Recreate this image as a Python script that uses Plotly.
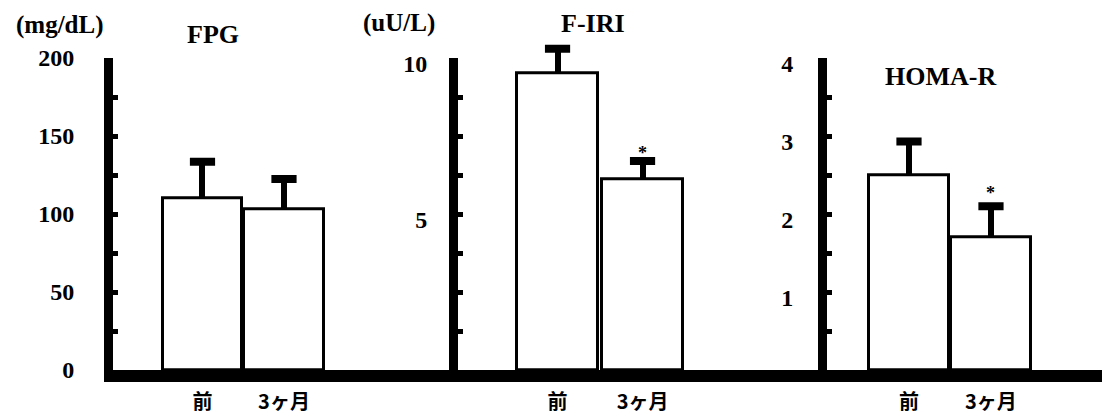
import plotly.graph_objects as go

# ---- data ----
categories = ["前", "3ヶ月"]
fpg_mean = [110, 103]
fpg_sd = [23.5, 19.5]
iri_mean = [9.5, 6.1]
iri_sd = [0.8, 0.6]
homa_mean = [2.5, 1.7]
homa_sd = [0.43, 0.4]

fpg_ticks = [0, 25, 50, 75, 100, 125, 150, 175, 200]
fpg_ticktext = ["0", "", "50", "", "100", "", "150", "", "200"]
iri_ticks = [0, 1.25, 2.5, 3.75, 5, 6.25, 7.5, 8.75, 10]
iri_ticktext = ["", "", "", "", "5", "", "", "", "10"]
homa_ticks = [0, 0.5, 1, 1.5, 2, 2.5, 3, 3.5, 4]
homa_ticktext = ["", "", "1", "", "2", "", "3", "", "4"]

titles = ["FPG", "F-IRI", "HOMA-R"]
units = ["(mg/dL)", "(uU/L)"]
significant = [False, True, True]  # 3ヶ月 vs 前, marked "*"

W, H = 1102, 416
SERIF = "Liberation Serif"
CJK = "Noto Sans CJK JP"
HEAD = 1.15  # headroom factor for the (invisible) data axes so error caps are not clipped

panels = [
    dict(mean=fpg_mean, sd=fpg_sd, ticks=fpg_ticks, text=fpg_ticktext, yr=[0, 200],
         xd=[113, 458], xr=[-1.098, 3.135], shift=0, standoff=25, bw=0.97, upx=81.5),
    dict(mean=iri_mean, sd=iri_sd, ticks=iri_ticks, text=iri_ticktext, yr=[0, 10],
         xd=[458, 827], xr=[-1.171, 3.170], shift=6, standoff=17, bw=0.95, upx=85),
    dict(mean=homa_mean, sd=homa_sd, ticks=homa_ticks, text=homa_ticktext, yr=[0, 4],
         xd=[827, 1102], xr=[-1.0, 2.354], shift=6, standoff=20, bw=0.98, upx=82),
]

fig = go.Figure()
ybot, ytop = (H - 370) / H, (H - 58) / H
ydom = [ybot, ytop]
ydom_data = [ybot, ybot + (ytop - ybot) * HEAD]

for i, p in enumerate(panels):
    sfx = "" if i == 0 else str(i + 1)
    xa, ya = "x" + sfx, "y" + sfx
    yd_name = str(i + 4)          # data axis: y4, y5, y6
    yd = "y" + yd_name
    # invisible trace so the visible axis pair is drawn
    fig.add_trace(go.Scatter(
        x=categories, y=[0, 0], mode="markers", marker=dict(opacity=0),
        xaxis=xa, yaxis=ya, showlegend=False, hoverinfo="skip"))
    fig.add_trace(go.Bar(
        x=categories, y=p["mean"], width=p["bw"],
        marker=dict(color="white", line=dict(color="black", width=3)),
        xaxis=xa, yaxis=yd, showlegend=False, hoverinfo="skip"))
    # error stems (upper SD only), drawn as thin bars from the mean
    fig.add_trace(go.Bar(
        x=categories, y=p["sd"], base=p["mean"], width=6 / p["upx"],
        marker=dict(color="black", line=dict(width=0)),
        xaxis=xa, yaxis=yd, showlegend=False, hoverinfo="skip"))
    # error caps
    fig.add_trace(go.Scatter(
        x=categories, y=[m + s for m, s in zip(p["mean"], p["sd"])], mode="markers",
        marker=dict(symbol="line-ew", size=18, line=dict(color="black", width=8)),
        xaxis=xa, yaxis=yd, showlegend=False, hoverinfo="skip"))

    fig.update_layout(**{
        ("xaxis" + sfx): dict(
            domain=[p["xd"][0] / W, p["xd"][1] / W], range=p["xr"], type="category",
            categoryorder="array", categoryarray=categories, anchor=ya,
            showline=True, linewidth=12, linecolor="black", ticks="",
            showgrid=False, zeroline=False, ticklabelstandoff=3, automargin=False,
            tickfont=dict(family=CJK, size=20, color="black", weight="bold")),
        ("yaxis" + sfx): dict(
            domain=ydom, range=p["yr"], anchor=xa, automargin=False,
            tickmode="array", tickvals=p["ticks"], ticktext=p["text"],
            showline=True, linewidth=9, linecolor="black",
            ticks="inside", ticklen=5, tickwidth=5, tickcolor="black",
            showgrid=False, zeroline=False, layer="above traces",
            ticklabelstandoff=p["standoff"], ticklabelshift=p["shift"],
            tickfont=dict(family=SERIF, size=24, color="black", weight="bold")),
        ("yaxis" + yd_name): dict(
            domain=ydom_data, range=[p["yr"][0], p["yr"][1] * HEAD], anchor=xa,
            visible=False, automargin=False, showgrid=False, zeroline=False),
    })

    if significant[i]:
        fig.add_annotation(
            x=categories[1], y=p["mean"][1] + p["sd"][1], xref=xa, yref=yd,
            text="*", showarrow=False, yshift=8 if i == 1 else 13,
            xanchor="center", yanchor="middle",
            font=dict(family=SERIF, size=18, color="black", weight="bold"))

# titles and units
title_pos = [(213, 34), (593, 23), (940, 76)]
for t, (px, py) in zip(titles, title_pos):
    fig.add_annotation(x=px / W, y=(H - py) / H, xref="paper", yref="paper",
                       text=t, showarrow=False, xanchor="center", yanchor="middle",
                       font=dict(family=SERIF, size=26, color="black", weight="bold"))
unit_pos = [(60, 25), (399, 23)]
for u, (px, py) in zip(units, unit_pos):
    fig.add_annotation(x=px / W, y=(H - py) / H, xref="paper", yref="paper",
                       text=u, showarrow=False, xanchor="center", yanchor="middle",
                       font=dict(family=SERIF, size=25, color="black", weight="bold"))

fig.update_layout(width=W, height=H, margin=dict(l=0, r=0, t=0, b=0, autoexpand=False),
                  paper_bgcolor="white", plot_bgcolor="rgba(0,0,0,0)",
                  barmode="overlay", bargap=0)

fig.write_html("out.html", config={"displayModeBar": False},
               post_script="document.body.style.margin='0';document.body.style.overflow='hidden';")
